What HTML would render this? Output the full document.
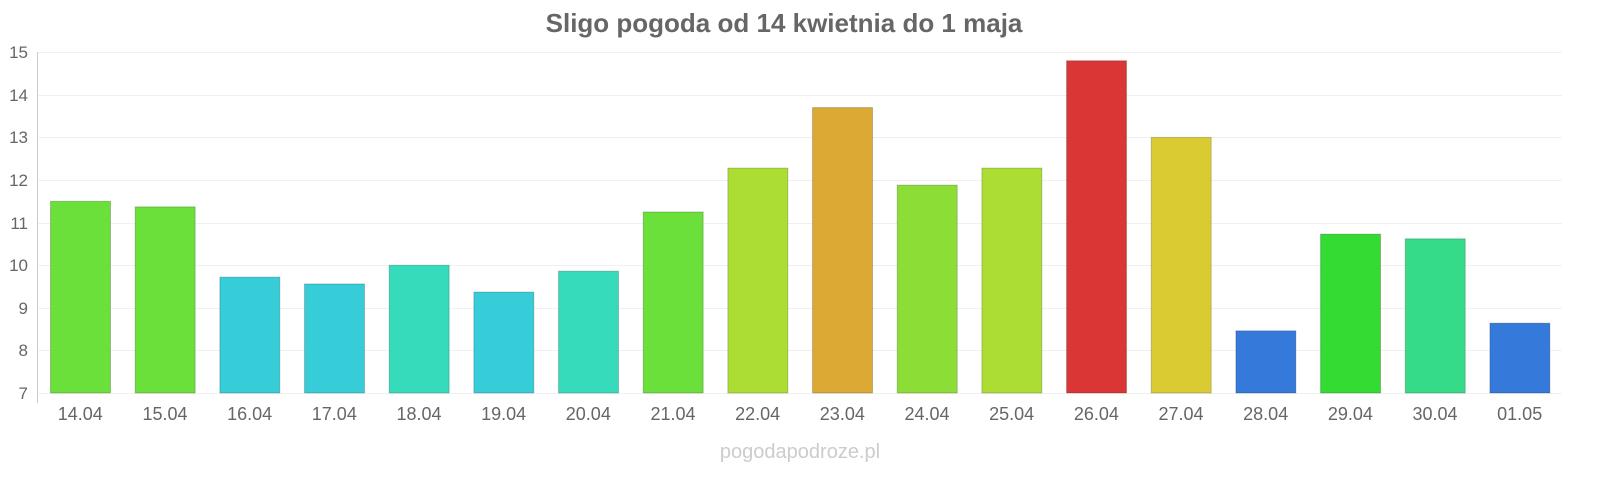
<!DOCTYPE html>
<html><head><meta charset="utf-8"><style>
body{margin:0;background:#fff;width:1600px;height:480px;overflow:hidden;font-family:"Liberation Sans",sans-serif}
</style></head><body>
<svg width="1600" height="480" xmlns="http://www.w3.org/2000/svg" font-family="Liberation Sans, sans-serif">
<text x="784" y="32" text-anchor="middle" font-size="26" font-weight="bold" fill="#666">Sligo pogoda od 14 kwietnia do 1 maja</text>
<g stroke="#f0f0f0" stroke-width="1">
<line x1="38" x2="1562" y1="52.5" y2="52.5"/><line x1="38" x2="1562" y1="95.5" y2="95.5"/>
<line x1="38" x2="1562" y1="137.5" y2="137.5"/><line x1="38" x2="1562" y1="180.5" y2="180.5"/>
<line x1="38" x2="1562" y1="223.5" y2="223.5"/><line x1="38" x2="1562" y1="265.5" y2="265.5"/>
<line x1="38" x2="1562" y1="308.5" y2="308.5"/><line x1="38" x2="1562" y1="350.5" y2="350.5"/>
<line x1="38" x2="1562" y1="393.5" y2="393.5"/>
</g>
<line x1="37.5" x2="37.5" y1="52" y2="403" stroke="#ccc"/>
<g font-size="17" fill="#666" text-anchor="end">
<text x="28" y="58">15</text><text x="28" y="101">14</text><text x="28" y="143">13</text>
<text x="28" y="186">12</text><text x="28" y="229">11</text><text x="28" y="271">10</text>
<text x="28" y="314">9</text><text x="28" y="356">8</text><text x="28" y="399">7</text>
</g>
<g id="bars" stroke-width="1"></g>
<g id="labels" font-size="18" fill="#666" text-anchor="middle"></g>
<text x="800" y="458" text-anchor="middle" font-size="20" fill="#ccc">pogodapodroze.pl</text>
</svg>
<script>
var d=[["14.04",11.5,"#6bdf3a"],["15.04",11.37,"#6bdf3a"],["16.04",9.72,"#36cdd9"],["17.04",9.56,"#36cdd9"],["18.04",10,"#36dbbb"],["19.04",9.37,"#36cdd9"],["20.04",9.86,"#36dbbb"],["21.04",11.25,"#6bdf3a"],["22.04",12.28,"#acdd33"],["23.04",13.7,"#dba934"],["24.04",11.88,"#8cdd36"],["25.04",12.28,"#acdd33"],["26.04",14.8,"#db3636"],["27.04",13,"#dbcb33"],["28.04",8.46,"#3579db"],["29.04",10.73,"#33db33"],["30.04",10.62,"#36db88"],["01.05",8.64,"#3579db"]];
var b=document.getElementById("bars"),l=document.getElementById("labels"),ns="http://www.w3.org/2000/svg";
d.forEach(function(e,i){var x=38+i*84.67,y=393-(e[1]-7)*42.6;
var r=document.createElementNS(ns,"rect");r.setAttribute("x",x+12.5);r.setAttribute("y",y);r.setAttribute("width",60);r.setAttribute("height",393-y);r.setAttribute("fill",e[2]);r.setAttribute("stroke","rgba(0,0,0,0.2)");b.appendChild(r);
var t=document.createElementNS(ns,"text");t.setAttribute("x",x+42.3);t.setAttribute("y",420);t.textContent=e[0];l.appendChild(t);});
</script>
</body></html>
